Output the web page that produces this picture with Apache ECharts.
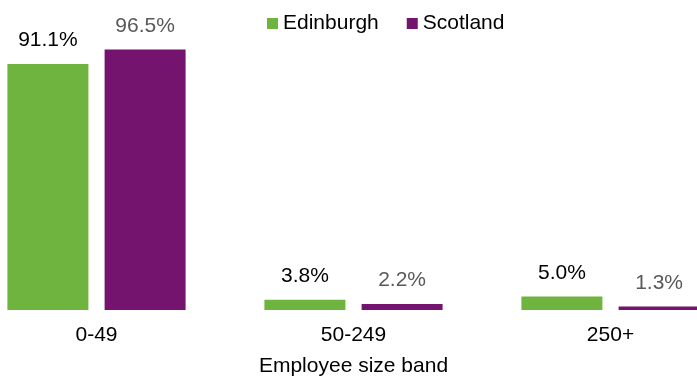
<!DOCTYPE html>
<html><head><meta charset="utf-8">
<script src="https://cdn.jsdelivr.net/npm/echarts@6/dist/echarts.min.js"></script>
<style>html,body{margin:0;padding:0;background:#fff;overflow:hidden;width:697px;height:379px}
#c{position:absolute;left:-32px;top:0;width:771px;height:379px}</style>
</head><body><div id="c"></div>
<script>
const categories = ['0-49', '50-249', '250+'];
const edinburgh = [91.1, 3.8, 5.0];
const scotland = [96.5, 2.2, 1.3];
const axisName = 'Employee size band';

const chart = echarts.init(document.getElementById('c'), null, {renderer: 'canvas'});
const font = 'Liberation Sans, Arial, sans-serif';
chart.setOption({
  animation: false,
  textStyle: {fontFamily: font},
  legend: {
    top: 8, left: 294,
    itemWidth: 11, itemHeight: 11, itemGap: 28,
    icon: 'rect',
    textStyle: {fontSize: 21, color: '#000', fontFamily: font},
    data: ['Edinburgh', 'Scotland']
  },
  grid: {left: 0, right: 0, top: 40, bottom: 69, containLabel: false, outerBoundsMode: 'none'},
  xAxis: {
    type: 'category', data: categories,
    axisLine: {show: false}, axisTick: {show: false},
    axisLabel: {fontSize: 21, color: '#000', margin: 15, fontFamily: font},
    name: axisName, nameLocation: 'middle', nameGap: 46,
    nameTextStyle: {fontSize: 21, color: '#000', fontFamily: font}
  },
  yAxis: {type: 'value', min: 0, max: 100, show: false, splitLine: {show: false}},
  series: [
    {name: 'Edinburgh', type: 'bar', data: edinburgh, barWidth: 81, barGap: '20%',
     itemStyle: {color: '#6eb43f'},
     label: {show: true, position: 'top', distance: 13, fontSize: 21, color: '#000', fontFamily: font,
       formatter: p => p.value.toFixed(1) + '%'}},
    {name: 'Scotland', type: 'bar', data: scotland, barWidth: 81,
     itemStyle: {color: '#75146f'},
     label: {show: true, position: 'top', distance: 13, fontSize: 21, color: '#595959', fontFamily: font,
       formatter: p => p.value.toFixed(1) + '%'}}
  ]
});
</script></body></html>
